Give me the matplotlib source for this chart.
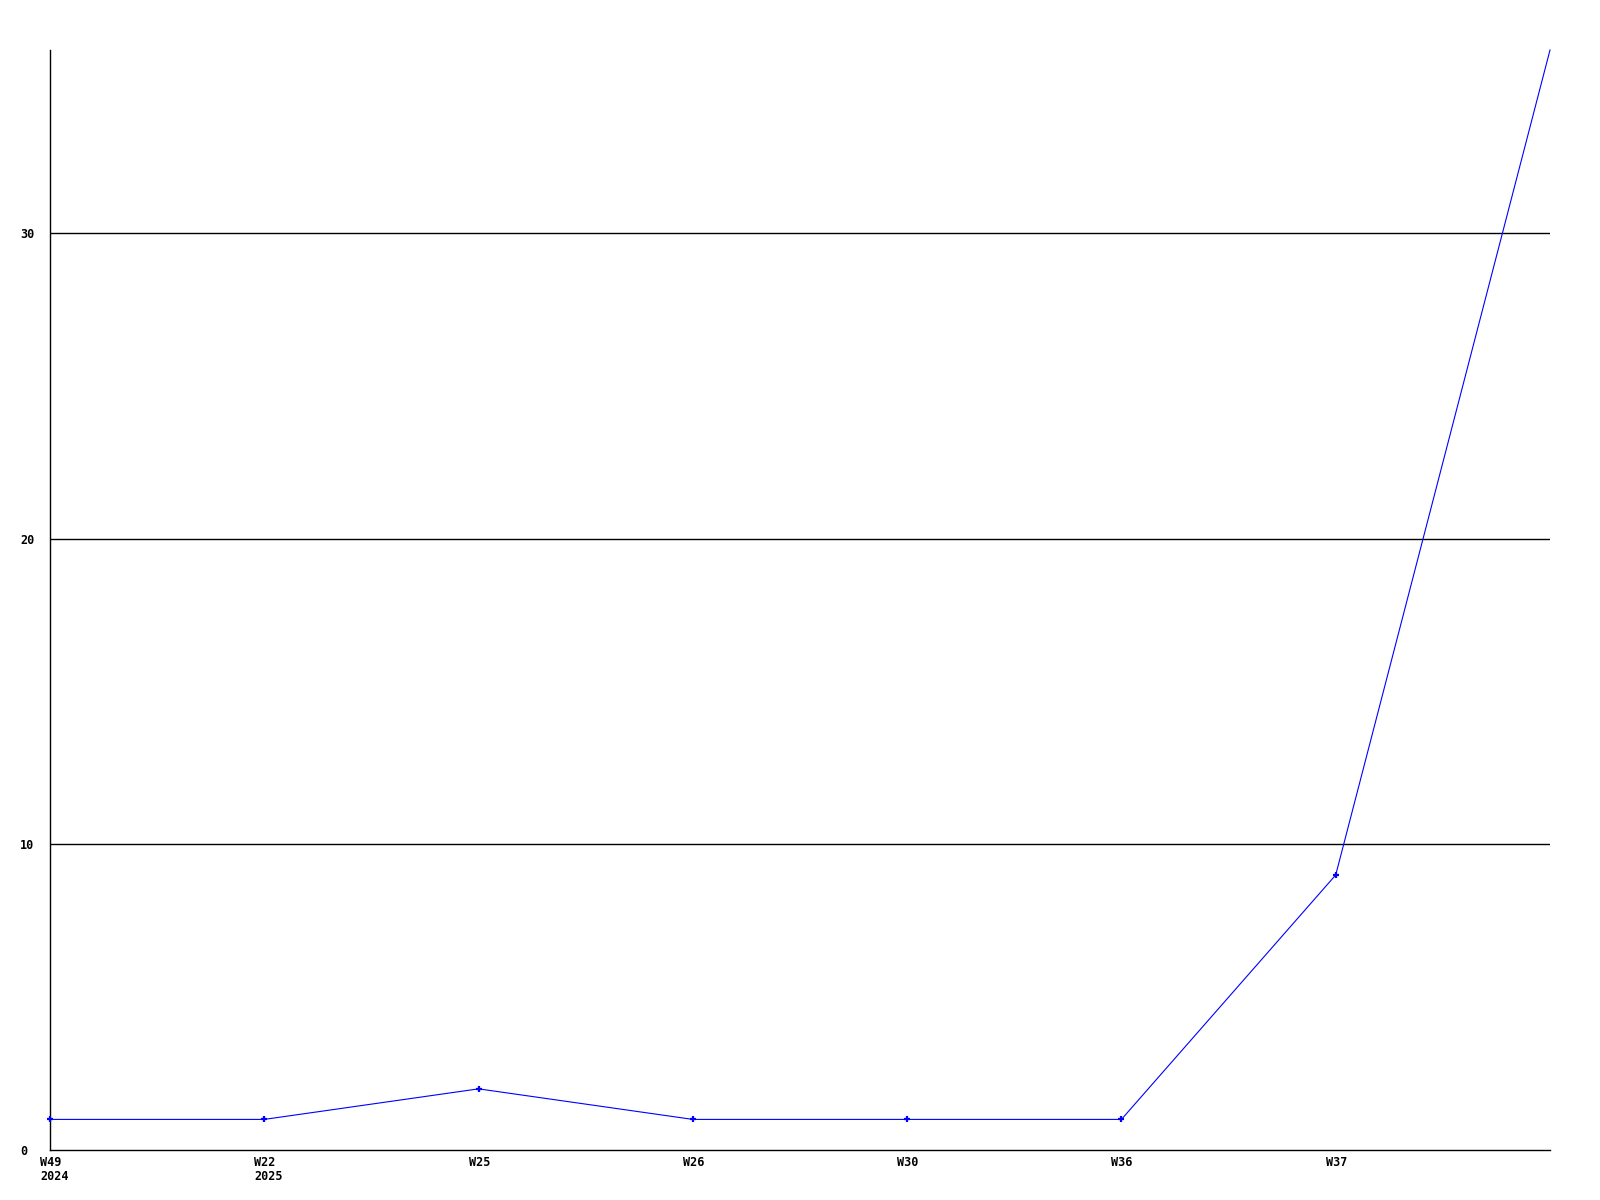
import matplotlib
matplotlib.use('Agg')
from matplotlib import pyplot as plt
from matplotlib import transforms

# weekly counts, last point has no label on the axis
weeks = ['W49\n2024', 'W22\n2025', 'W25', 'W26', 'W30', 'W36', 'W37', '']
counts = [1, 1, 2, 1, 1, 1, 9, 36]
yticks = [0, 10, 20, 30]

fig = plt.figure(figsize=(16, 12), dpi=100)
ax = fig.add_axes([0.03125, 0.0417, 0.9375, 0.9166])

x = list(range(len(counts)))
ax.plot(x, counts, color='#0000ff', linewidth=0.8, marker='+',
        markersize=5, markeredgewidth=1.6, markevery=list(range(len(counts) - 1)),
        clip_on=False, zorder=3)

ax.set_xlim(0, len(counts) - 1)
ax.set_ylim(0, max(counts))

for yv in yticks[1:]:
    ax.axhline(yv, color='black', linewidth=1.0, zorder=1)

ax.set_yticks(yticks)
ax.set_yticklabels([str(v) for v in yticks])
ax.set_xticks(x)
ax.set_xticklabels(weeks)

ax.tick_params(axis='both', length=0)
ax.tick_params(axis='y', pad=21.6)
ax.tick_params(axis='x', pad=4.5)
for lab in ax.get_yticklabels() + ax.get_xticklabels():
    lab.set_family('DejaVu Sans Mono')
    lab.set_fontweight('bold')
    lab.set_fontsize(8.5)
for lab in ax.get_xticklabels():
    lab.set_linespacing(1.1)
# y labels start at the same left edge
for lab in ax.get_yticklabels():
    lab.set_horizontalalignment('left')

# left aligned x labels, shifted so the first line sits centred on the tick
offset = transforms.ScaledTranslation(-10 / 100, 0, fig.dpi_scale_trans)
for lab in ax.get_xticklabels():
    lab.set_horizontalalignment('left')
    lab.set_transform(lab.get_transform() + offset)

for side in ['top', 'right']:
    ax.spines[side].set_visible(False)
for side in ['left', 'bottom']:
    ax.spines[side].set_color('black')
    ax.spines[side].set_linewidth(1.0)

plt.savefig('out.png', dpi=100)
plt.close()
